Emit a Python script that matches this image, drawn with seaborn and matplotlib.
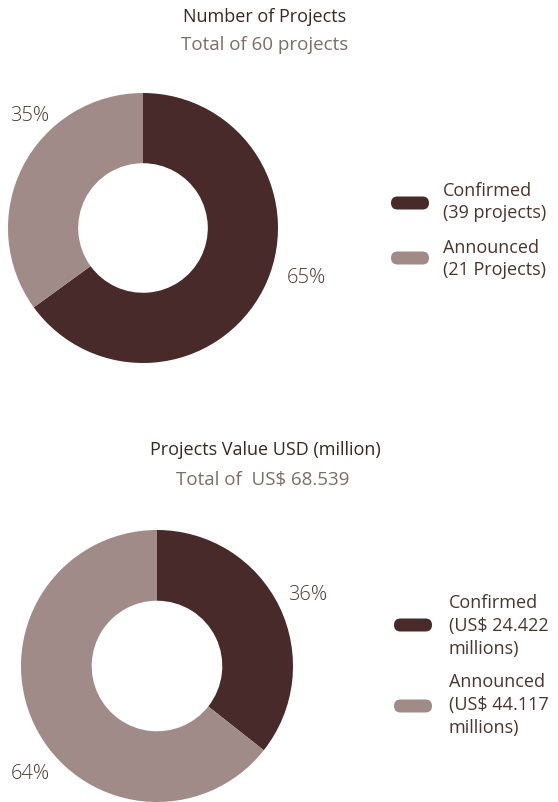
import numpy as np
import matplotlib
matplotlib.use("Agg")
import matplotlib.pyplot as plt
from matplotlib.patches import FancyBboxPatch
import seaborn as sns

# data
categories = ["Confirmed", "Announced"]
project_counts = [39, 21]
project_values = [24.422, 44.117]
count_legend = ["Confirmed\n(39 projects)", "Announced\n(21 Projects)"]
value_legend = ["Confirmed\n(US$ 24.422\nmillions)", "Announced\n(US$ 44.117\nmillions)"]
colors = ["#472a29", "#a08b88"]

sns.set_theme(style="white")
plt.rcParams["font.family"] = ["Open Sans", "DejaVu Sans"]

W, H = 558, 803
fig = plt.figure(figsize=(W / 100, H / 100), dpi=100)
fig.patch.set_facecolor("white")

title_c = "#3a2726"
sub_c = "#7d6d6b"
lab_c = "#4e3836"
leg_c = "#4a3432"


def px_axes(cx, cy, r):
    # axes square around centre (cx, cy) in pixels, radius r
    return fig.add_axes([(cx - r) / W, (H - cy - r) / H, 2 * r / W, 2 * r / H])


def donut(ax, vals, label_pos):
    ax.pie(vals, colors=colors, startangle=90, counterclock=False,
           radius=1, wedgeprops=dict(width=0.52, edgecolor="none"))
    ax.set_xlim(-1, 1)
    ax.set_ylim(-1, 1)
    ax.set_aspect("equal")
    ax.axis("off")
    total = sum(vals)
    for v, (x, y) in zip(vals, label_pos):
        ax.text(x, y, f"{round(100 * v / total)}%", ha="center", va="center",
                fontsize=14.5, color=lab_c, fontweight="light", clip_on=False)


def legend(x_pill, x_text, entries):
    for (label, y_text, y_pill), c in zip(entries, colors):
        fig.patches.append(FancyBboxPatch(
            (x_pill / 100, (H - y_pill - 6.5) / 100), 38 / 100, 13 / 100,
            boxstyle="round,pad=0,rounding_size=0.065", transform=fig.dpi_scale_trans,
            facecolor=c, edgecolor="none"))
        fig.text(x_text / W, 1 - y_text / H, label, ha="left", va="center",
                 fontsize=13, color=leg_c, linespacing=1.33)


# top chart
fig.text(265 / W, 1 - 17 / H, "Number of Projects", ha="center", va="center",
         fontsize=13, color=title_c, fontweight="medium")
fig.text(265 / W, 1 - 45 / H, "Total of 60 projects", ha="center", va="center",
         fontsize=13.5, color=sub_c)
ax1 = px_axes(143, 229, 135)
donut(ax1, project_counts, [(1.21, -0.36), (-0.84, 0.84)])
legend(391, 443, [(count_legend[0], 202, 204), (count_legend[1], 259, 259)])

# bottom chart
fig.text(265 / W, 1 - 450 / H, "Projects Value USD (million)", ha="center", va="center",
         fontsize=13, color=title_c, fontweight="medium")
fig.text(263 / W, 1 - 480 / H, "Total of  US$ 68.539", ha="center", va="center",
         fontsize=13.5, color=sub_c)
ax2 = px_axes(157, 667, 136)
donut(ax2, project_values, [(1.11, 0.53), (-0.93, -0.79)])
legend(394, 449, [(value_legend[0], 626, 626), (value_legend[1], 705, 707)])

fig.savefig("out.png", dpi=100, facecolor="white")
